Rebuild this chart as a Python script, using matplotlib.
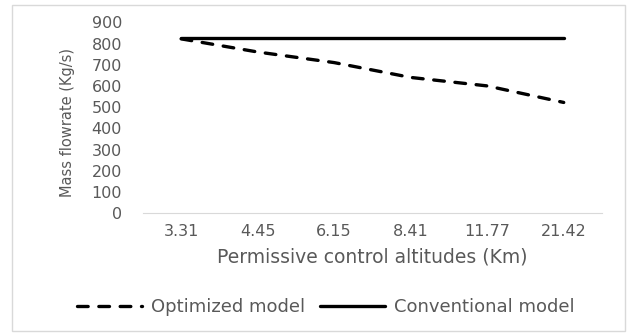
import matplotlib
matplotlib.use('Agg')
import matplotlib.pyplot as plt
from matplotlib.patches import Rectangle

altitudes = ['3.31', '4.45', '6.15', '8.41', '11.77', '21.42']
optimized = [822, 760, 710, 640, 600, 522]
conventional = [824, 824, 824, 824, 824, 824]

text_color = '#595959'
plt.rcParams['font.family'] = ['DejaVu Sans']

fig = plt.figure(figsize=(6.35, 3.33), dpi=100)
ax = fig.add_axes([0.225, 0.36, 0.723, 0.573])

x = range(len(altitudes))
line_opt, = ax.plot(x, optimized, color='black', lw=2.4, linestyle=(0, (3.2, 3.2)),
                    dash_capstyle='round', label='Optimized model')
line_conv, = ax.plot(x, conventional, color='black', lw=2.4, solid_capstyle='round',
                     label='Conventional model')

ax.set_xlim(-0.5, len(altitudes) - 0.5)
ax.set_ylim(0, 900)
ax.set_yticks(range(0, 901, 100))
ax.set_xticks(list(x))
ax.set_xticklabels(altitudes)
ax.tick_params(axis='both', length=0, colors=text_color, labelsize=11.5)
ax.tick_params(axis='x', pad=8)
ax.tick_params(axis='y', pad=15)

for side in ['top', 'right', 'left']:
    ax.spines[side].set_visible(False)
ax.spines['bottom'].set_color('#d9d9d9')

ax.set_xlabel('Permissive control altitudes (Km)', color=text_color, fontsize=13.5, labelpad=6)
ax.set_ylabel('Mass flowrate (Kg/s)', color=text_color, fontsize=10.5)
ax.yaxis.set_label_coords(-0.148, 0.475)

fig.legend(handles=[line_opt, line_conv], loc='center', bbox_to_anchor=(0.513, 0.078),
           ncol=2, frameon=False, fontsize=13, handlelength=3.6, columnspacing=0.8,
           handletextpad=0.5, labelcolor=text_color)

# light outer frame around the chart area
fig.patches.append(Rectangle((0.019, 0.006), 0.966, 0.98, transform=fig.transFigure,
                             fill=False, edgecolor='#d9d9d9', lw=1))

fig.savefig('out.png', dpi=100)
